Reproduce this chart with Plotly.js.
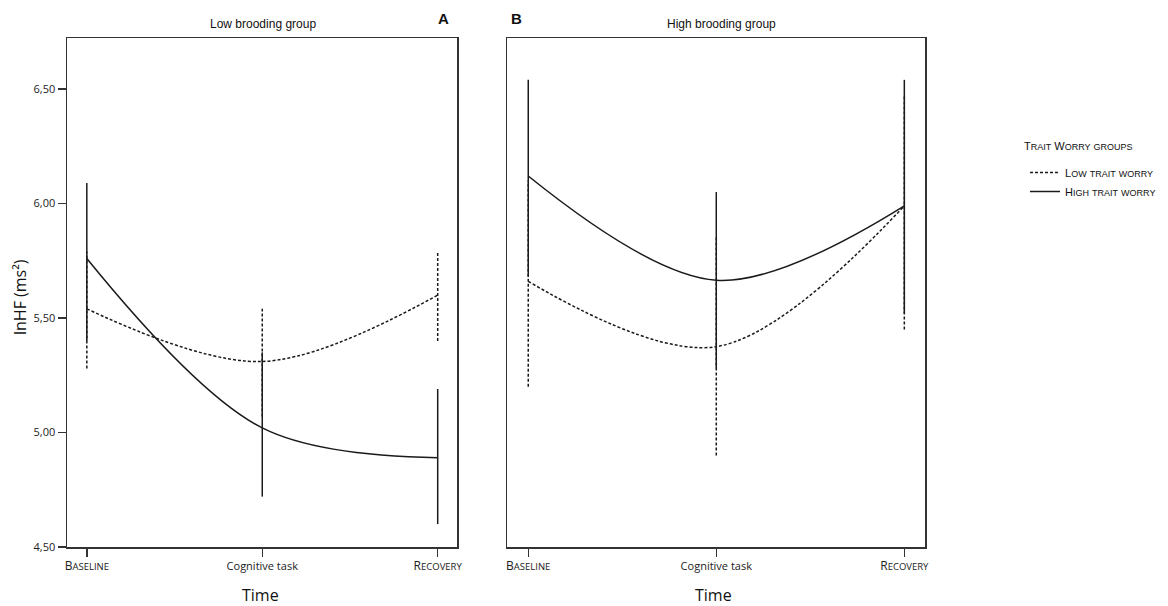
<!DOCTYPE html>
<html>
<head>
<meta charset="utf-8">
<script src="https://cdn.plot.ly/plotly-3.0.1.min.js"></script>
<style>html,body{margin:0;padding:0;background:#fff;}#chart{width:1168px;height:606px;}</style>
</head>
<body>
<div id="chart"></div>
<script>
// ---- data ----
const categories = ['Baseline', 'Cognitive task', 'Recovery'];
const tickLabelsRaw = ['Baseline', 'Cognitive task', 'Recovery'];
const smallCapsTicks = [true, false, true];
const seriesNames = ['Low trait worry', 'High trait worry'];
const legendTitle = 'Trait Worry groups';
const panelTitles = ['Low brooding group', 'High brooding group'];
const panelLetters = ['A', 'B'];
const yTitle = 'lnHF (ms²)';
const xTitle = 'Time';

// Panel A: low brooding group
const lowBrood_lowWorry_mean  = [5.54, 5.31, 5.60];
const lowBrood_lowWorry_lo    = [5.28, 5.07, 5.40];
const lowBrood_lowWorry_hi    = [5.79, 5.54, 5.79];
const lowBrood_highWorry_mean = [5.76, 5.02, 4.89];
const lowBrood_highWorry_lo   = [5.40, 4.72, 4.60];
const lowBrood_highWorry_hi   = [6.09, 5.35, 5.19];
// Panel B: high brooding group
const highBrood_lowWorry_mean  = [5.66, 5.375, 5.99];
const highBrood_lowWorry_lo    = [5.20, 4.90, 5.45];
const highBrood_lowWorry_hi    = [6.10, 5.86, 6.47];
const highBrood_highWorry_mean = [6.12, 5.665, 5.99];
const highBrood_highWorry_lo   = [5.68, 5.28, 5.52];
const highBrood_highWorry_hi   = [6.54, 6.05, 6.54];

const yTicks = [4.5, 5.0, 5.5, 6.0, 6.5];

// ---- helpers ----
function smallCaps(text, small) {
  return text.split(' ').map(w => {
    let out = '';
    let buf = '';
    for (const ch of w) {
      if (ch === ch.toUpperCase() && ch !== ch.toLowerCase()) {
        if (buf) { out += '<span style="font-size:' + small + 'px">' + buf.toUpperCase() + '</span>'; buf = ''; }
        out += ch;
      } else buf += ch;
    }
    if (buf) out += '<span style="font-size:' + small + 'px">' + buf.toUpperCase() + '</span>';
    return out;
  }).join(' ');
}

const xIdx = categories.map((c, i) => i);
const tickText = tickLabelsRaw.map((t, i) => smallCapsTicks[i] ? '<span style="font-size:12px">' + smallCaps(t, 9.5) + '</span>' : t);

const col = '#1a1a1a';
const dashPat = '3px,2px';

function errTrace(lo, hi, dash, xa, ya) {
  const x = [], y = [];
  xIdx.forEach(i => { x.push(i, i, null); y.push(lo[i], hi[i], null); });
  return { type: 'scatter', mode: 'lines', x, y, xaxis: xa, yaxis: ya, showlegend: false, hoverinfo: 'skip',
           line: { color: col, width: 1.5, dash: dash } };
}
function curveTrace(mean, dash, name, xa, ya, showleg) {
  return { type: 'scatter', mode: 'lines', x: xIdx, y: mean, xaxis: xa, yaxis: ya, name: name,
           showlegend: showleg, legendgroup: name,
           line: { color: col, width: 1.5, dash: dash, shape: 'spline', smoothing: 1 } };
}

const legLow = smallCaps(seriesNames[0], 9);
const legHigh = smallCaps(seriesNames[1], 9);

const traces = [
  errTrace(lowBrood_lowWorry_lo, lowBrood_lowWorry_hi, dashPat, 'x', 'y'),
  errTrace(highBrood_lowWorry_lo, highBrood_lowWorry_hi, dashPat, 'x2', 'y2'),
  curveTrace(lowBrood_lowWorry_mean, dashPat, legLow, 'x', 'y', true),
  curveTrace(highBrood_lowWorry_mean, dashPat, legLow, 'x2', 'y2', false),
  errTrace(lowBrood_highWorry_lo, lowBrood_highWorry_hi, 'solid', 'x', 'y'),
  errTrace(highBrood_highWorry_lo, highBrood_highWorry_hi, 'solid', 'x2', 'y2'),
  curveTrace(lowBrood_highWorry_mean, 'solid', legHigh, 'x', 'y', true),
  curveTrace(highBrood_highWorry_mean, 'solid', legHigh, 'x2', 'y2', false)
];

const W = 1168, H = 606;
const yTop = 38, yBot = 547;
const yDom = [1 - yBot / H, 1 - yTop / H];
const yRange = [4.5, 4.5 + (yBot - yTop) / 229];
const xRange = [-0.113, 2.11];

const axisCommon = {
  showgrid: false, zeroline: false, showline: true, mirror: true,
  linecolor: '#333', linewidth: 1.5, ticks: 'outside', ticklen: 8, tickwidth: 1.5, tickcolor: '#333',
  tickfont: { family: 'Open Sans, sans-serif', size: 11, color: '#222' }
};

function ann(text, xpx, ypx, size, fam, extra) {
  return Object.assign({ text: text, x: xpx / W, y: 1 - ypx / H, xref: 'paper', yref: 'paper',
    xanchor: 'center', yanchor: 'middle', showarrow: false,
    font: { family: fam, size: size, color: '#111' } }, extra || {});
}
const sans = 'Liberation Sans, Arial, sans-serif';
const open = 'Open Sans, sans-serif';

const layout = {
  width: W, height: H,
  margin: { l: 0, r: 0, t: 0, b: 0 },
  paper_bgcolor: '#fff', plot_bgcolor: '#fff',
  separators: ',.',
  showlegend: true,
  xaxis: Object.assign({}, axisCommon, { domain: [67 / W, 457 / W], range: xRange,
           tickmode: 'array', tickvals: xIdx, ticktext: tickText }),
  yaxis: Object.assign({}, axisCommon, { domain: yDom, range: yRange, tickmode: 'array',
           tickvals: yTicks, tickformat: '.2f' }),
  xaxis2: Object.assign({}, axisCommon, { domain: [507 / W, 925 / W], range: xRange, anchor: 'y2',
           tickmode: 'array', tickvals: xIdx, ticktext: tickText }),
  yaxis2: Object.assign({}, axisCommon, { domain: yDom, range: yRange, anchor: 'x2',
           showticklabels: false, ticks: '' }),
  legend: {
    x: 1025 / W, y: 1 - 158 / H, xanchor: 'left', yanchor: 'top',
    font: { family: sans, size: 11, color: '#111' },
    bgcolor: 'rgba(0,0,0,0)', borderwidth: 0, tracegroupgap: 0, itemwidth: 30
  },
  annotations: [
    ann(panelTitles[0], 263, 24, 12, sans),
    ann(panelTitles[1], 721, 24, 12, sans),
    ann('<b>' + panelLetters[0] + '</b>', 443, 19, 15, sans),
    ann('<b>' + panelLetters[1] + '</b>', 516, 19, 15, sans),
    ann(yTitle, 20, 297, 16, open, { textangle: -90 }),
    ann(xTitle, 260, 595, 16, open),
    ann(xTitle, 713, 595, 16, open),
    ann(smallCaps(legendTitle, 9), 1022, 146, 11, sans, { xanchor: 'left' })
  ]
};

Plotly.newPlot('chart', traces, layout, { staticPlot: true });
</script>
</body>
</html>
